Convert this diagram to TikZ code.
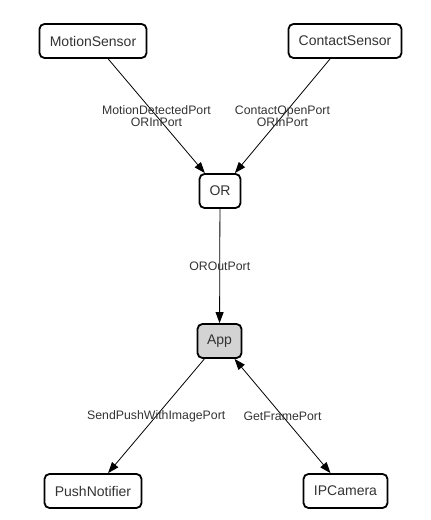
\documentclass[tikz,border=0pt]{standalone}
\usepackage{fontspec}
\setmainfont{Liberation Sans}
\usetikzlibrary{arrows.meta,calc}
\definecolor{txt}{HTML}{333333}
\definecolor{appfill}{HTML}{D3D3D3}
\begin{document}
\begin{tikzpicture}[x=1pt,y=1pt,
  box/.style={draw=black,line width=1.8pt,rounded corners=5pt,fill=white,
    inner sep=0pt,minimum height=34pt,text=txt,font=\fontsize{14}{16}\selectfont},
  conn/.style={line width=0.8pt,-{Triangle[length=11pt,width=8pt]}},
  lab/.style={text=txt,align=center,inner sep=0pt,font=\fontsize{12.3}{12.3}\selectfont}]
\useasboundingbox (0,0) rectangle (431,520);
\node[box,minimum width=107pt] (ms) at (93,479) {MotionSensor};
\node[box,minimum width=113pt] (cs) at (345,479) {ContactSensor};
\node[box,minimum width=41pt] (or) at (220,329) {OR};
\node[box,minimum width=44pt,fill=appfill] (app) at (219.5,179) {App};
\node[box,minimum width=97pt] (pn) at (93,29) {PushNotifier};
\node[box,minimum width=84pt] (ip) at (345.5,29) {IPCamera};
\draw[conn] (ms) -- (or);
\draw[conn] (cs) -- (or);
\draw[conn] (or) -- (app);
\draw[conn] (app) -- (pn);
\draw[conn,{Triangle[length=11pt,width=8pt]}-{Triangle[length=11pt,width=8pt]}] (app) -- (ip);
\node[lab] (l1) at ($(ms.center)!0.5!(or.center)$) {MotionDetectedPort\\ORInPort};
\node[lab] (l2) at ($(cs.center)!0.5!(or.center)$) {ContactOpenPort\\ORInPort};
\node[lab] (l3) at ($(or.center)!0.5!(app.center)$) {OROutPort};
\node[lab] (l4) at ($(app.center)!0.5!(pn.center)$) {SendPushWithImagePort};
\node[lab] (l5) at ($(app.center)!0.5!(ip.center)$) {GetFramePort};
\end{tikzpicture}
\end{document}
